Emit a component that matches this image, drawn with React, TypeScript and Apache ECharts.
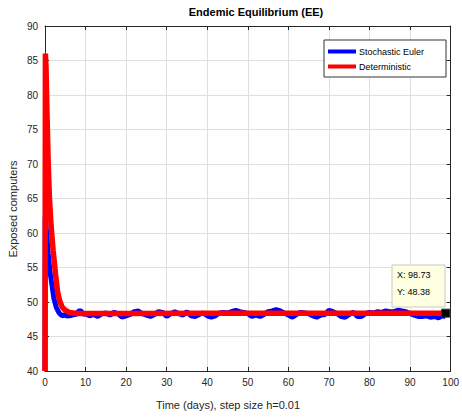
import React, { useEffect, useRef } from "react";
import * as echarts from "echarts";

const FONT = "'Liberation Sans', Arial, Helvetica, sans-serif";

const stochT: number[] = [0, 0.02, 0.05, 0.4, 0.8, 1.2, 1.7, 2.2, 2.8, 3.5, 4, 4.5, 5, 5.5, 6, 6.5, 7, 7.5, 8, 8.6, 9, 9.5, 10, 11, 12, 13, 14, 15, 16, 17, 18, 19, 20, 21, 22, 23, 24, 25, 26, 27, 28, 29, 30, 31, 32, 33, 34, 35, 36, 37, 38, 39, 40, 41, 42, 43, 44, 45, 46, 47, 48, 49, 50, 51, 52, 53, 54, 55, 56, 57, 58, 59, 60, 61, 62, 63, 64, 65, 66, 67, 68, 69, 70, 71, 72, 73, 74, 75, 76, 77, 78, 79, 80, 81, 82, 83, 84, 85, 86, 87, 88, 89, 90, 91, 92, 93, 94, 95, 96, 97, 98, 98.73];
const stochV: number[] = [40, 52, 62.4, 60, 57, 54.5, 52.5, 50.5, 49.2, 48.4, 48.1, 48.0, 48.2, 47.9, 48.1, 48.0, 48.3, 48.1, 48.5, 48.8, 48.6, 48.2, 48.3, 48.0, 48.2, 47.9, 48.3, 48.4, 48.1, 48.5, 48.3, 47.8, 48.0, 48.2, 48.6, 48.7, 48.3, 48.1, 47.9, 48.2, 48.6, 48.5, 47.9, 48.3, 48.6, 48.3, 48.1, 48.6, 48.0, 47.9, 48.2, 48.4, 48.0, 47.8, 48.0, 48.4, 48.5, 48.4, 48.6, 48.8, 48.6, 48.5, 48.3, 47.9, 48.1, 47.9, 48.2, 48.6, 48.7, 48.9, 48.7, 48.4, 48.1, 47.8, 48.2, 48.5, 48.4, 48.3, 48.0, 47.8, 48.1, 48.2, 48.8, 48.6, 48.3, 47.9, 47.8, 48.2, 48.5, 47.9, 47.9, 48.3, 48.5, 48.4, 48.6, 48.5, 48.7, 48.6, 48.6, 48.8, 48.7, 48.6, 48.3, 48.1, 47.9, 47.9, 48.0, 47.8, 47.9, 47.7, 48.0, 47.9];

const detT: number[] = [0, 0.1, 0.25, 0.5, 0.8, 1.1, 1.5, 2.0, 2.6, 3.1, 3.6, 4.2, 5, 6, 7, 8, 20, 40, 60, 80, 98.73];
const detV: number[] = [40, 86, 84, 77, 70, 65, 61, 57.5, 54, 51.5, 50.2, 49.3, 48.8, 48.5, 48.4, 48.35, 48.35, 48.36, 48.37, 48.37, 48.38];

const xTicks = { min: 0, max: 100, interval: 10 };
const yTicks = { min: 40, max: 90, interval: 5 };
const tipX = 98.73;
const tipY = 48.38;

export default function App() {
  const ref = useRef<HTMLDivElement>(null);
  useEffect(() => {
    document.body.style.margin = "0";
    if (!ref.current) return;
    const chart = echarts.init(ref.current, null, { renderer: "svg" });
    const axisColor = "#262626";
    const gridColor = "#dfdfdf";
    const baseX = {
      type: "value",
      min: xTicks.min,
      max: xTicks.max,
      interval: xTicks.interval,
      axisLine: { show: true, onZero: false, lineStyle: { color: axisColor, width: 1 } },
      axisTick: { show: true, inside: true, length: 4, lineStyle: { color: axisColor } },
    };
    const baseY = {
      type: "value",
      min: yTicks.min,
      max: yTicks.max,
      interval: yTicks.interval,
      axisLine: { show: true, onZero: false, lineStyle: { color: axisColor, width: 1 } },
      axisTick: { show: true, inside: true, length: 4, lineStyle: { color: axisColor } },
    };
    chart.setOption({
      animation: false,
      backgroundColor: "#ffffff",
      textStyle: { fontFamily: FONT },
      title: {
        text: "Endemic Equilibrium (EE)",
        left: 251,
        textAlign: "center",
        top: 1,
        textStyle: { fontFamily: FONT, fontSize: 11, fontWeight: "bold", color: "#000" },
      },
      grid: { left: 45, right: 5, top: 26, bottom: 46, containLabel: false },
      legend: {
        orient: "vertical",
        left: 324,
        top: 40,
        padding: [7, 22, 6, 4],
        itemGap: 6,
        itemWidth: 28,
        itemHeight: 4,
        icon: "rect",
        backgroundColor: "#ffffff",
        borderColor: "#333333",
        borderWidth: 1,
        borderRadius: 0,
        textStyle: { fontFamily: FONT, fontSize: 9, color: "#000", padding: [0, 0, 0, -2] },
        data: ["Stochastic Euler", "Deterministic"],
      },
      xAxis: [
        {
          ...baseX,
          position: "bottom",
          axisLabel: { margin: 6, fontSize: 10, color: axisColor, fontFamily: FONT },
          splitLine: { show: true, lineStyle: { color: gridColor, width: 1 } },
        },
        {
          ...baseX,
          position: "top",
          axisLabel: { show: false },
          splitLine: { show: false },
        },
      ],
      yAxis: [
        {
          ...baseY,
          position: "left",
          axisLabel: { margin: 7, fontSize: 10, color: axisColor, fontFamily: FONT },
          splitLine: { show: true, lineStyle: { color: gridColor, width: 1 } },
        },
        {
          ...baseY,
          position: "right",
          axisLabel: { show: false },
          splitLine: { show: false },
        },
      ],
      series: [
        {
          name: "Stochastic Euler",
          type: "line",
          showSymbol: false,
          symbol: "none",
          color: "#0000ff",
          lineStyle: { color: "#0000ff", width: 5 },
          data: stochT.map((t, i) => [t, stochV[i]]),
          z: 2,
        },
        {
          name: "Deterministic",
          type: "line",
          showSymbol: false,
          symbol: "none",
          color: "#ff0000",
          lineStyle: { color: "#ff0000", width: 5.5 },
          data: detT.map((t, i) => [t, detV[i]]),
          z: 3,
          markPoint: {
            symbol: "rect",
            symbolSize: 8,
            itemStyle: { color: "#000000", borderColor: "#333", borderWidth: 1 },
            label: { show: false },
            data: [{ coord: [tipX, tipY] }],
          },
        },
      ],
      graphic: [
        {
          type: "rect",
          shape: { x: 392, y: 265, width: 53, height: 42 },
          style: { fill: "#ffffe1", stroke: "#c8c8c8", lineWidth: 1 },
          z: 100,
        },
        {
          type: "text",
          x: 397,
          y: 275,
          style: { text: "X: " + tipX.toFixed(2), font: "9px " + FONT, fill: "#000", verticalAlign: "middle" },
          z: 101,
        },
        {
          type: "text",
          x: 397,
          y: 292,
          style: { text: "Y: " + tipY.toFixed(2), font: "9px " + FONT, fill: "#000", verticalAlign: "middle" },
          z: 101,
        },
        {
          type: "text",
          x: 228,
          y: 405,
          style: { text: "Time (days), step size h=0.01", font: "11px " + FONT, fill: "#262626", align: "center", verticalAlign: "middle" },
        },
        {
          type: "text",
          x: 13,
          y: 209,
          rotation: Math.PI / 2,
          style: { text: "Exposed computers", font: "11px " + FONT, fill: "#262626", align: "center", verticalAlign: "middle" },
        },
      ],
    });
    return () => chart.dispose();
  }, []);
  return <div ref={ref} style={{ width: 462, height: 417 }} />;
}
